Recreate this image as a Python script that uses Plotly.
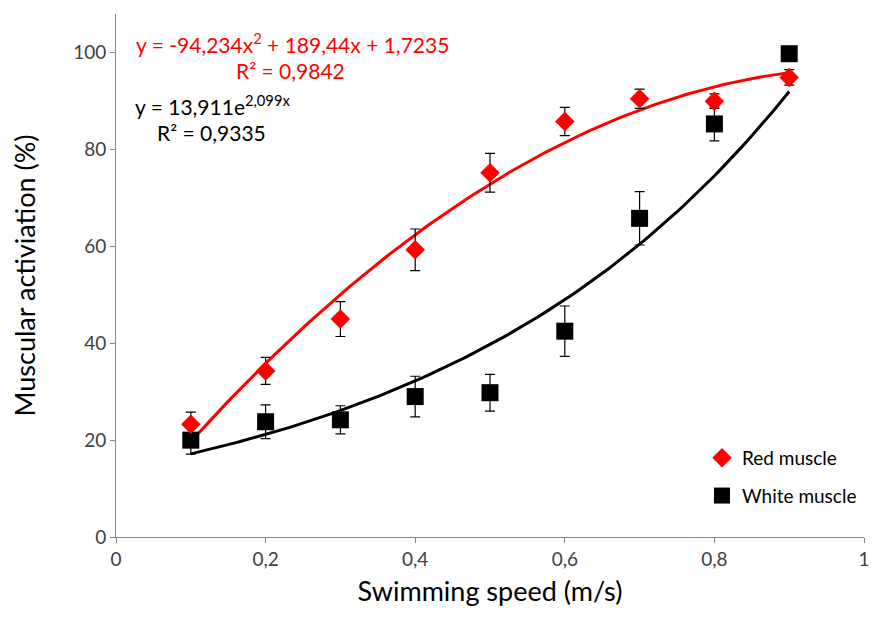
import numpy as np
import plotly.graph_objects as go

speed = [0.1, 0.2, 0.3, 0.4, 0.5, 0.6, 0.7, 0.8, 0.9]
red_vals = [23.3, 34.3, 45.0, 59.3, 75.2, 85.8, 90.5, 90.0, 94.9]
red_err = [2.5, 2.8, 3.6, 4.3, 4.0, 2.9, 2.0, 1.5, 1.6]
white_vals = [20.0, 23.8, 24.2, 29.0, 29.8, 42.5, 65.8, 85.3, 99.8]
white_err = [2.9, 3.5, 2.9, 4.2, 3.8, 5.2, 5.5, 3.5, 0.0]

# trendline coefficients as displayed on chart
poly_a, poly_b, poly_c = -94.234, 189.44, 1.7235
exp_a, exp_b = 13.911, 2.099

FONT = "Lato, 'Open Sans', sans-serif"

xs = np.linspace(0.1, 0.9, 120)
red_fit = poly_a * xs**2 + poly_b * xs + poly_c
white_fit = exp_a * np.exp(exp_b * xs)

fig = go.Figure()
fig.add_trace(go.Scatter(x=xs, y=red_fit, mode="lines",
                         line=dict(color="#ff0000", width=3), showlegend=False, hoverinfo="skip"))
fig.add_trace(go.Scatter(x=xs, y=white_fit, mode="lines",
                         line=dict(color="#000000", width=3), showlegend=False, hoverinfo="skip"))
fig.add_trace(go.Scatter(x=speed, y=white_vals, mode="markers", name="White muscle",
                         legendgroup="w", legendrank=2,
                         marker=dict(symbol="square", size=17, color="#000000"),
                         error_y=dict(type="data", array=white_err, color="#000000",
                                      thickness=1.2, width=5)))
fig.add_trace(go.Scatter(x=speed, y=red_vals, mode="markers", name="Red muscle",
                         legendgroup="r", legendrank=1,
                         marker=dict(symbol="diamond", size=15, color="#ff0000"),
                         error_y=dict(type="data", array=red_err, color="#000000",
                                      thickness=1.2, width=5)))

# page body has an 8px default margin; keep the figure inside the window
OFF = 8
W, H = 877 - 2 * OFF, 617 - 2 * OFF
L, R, T, B = 108, 5, 6, 72
pw, ph = W - L - R, H - T - B
ymax = 108

axis_common = dict(showline=True, linecolor="#868686", linewidth=1, ticks="outside",
                   tickcolor="#868686", ticklen=5, showgrid=False, zeroline=False,
                   automargin=False, ticklabeloverflow="allow",
                   tickfont=dict(family=FONT, size=19, color="#404040"))

fig.update_xaxes(range=[0, 1], tickvals=[0, 0.2, 0.4, 0.6, 0.8, 1],
                 title=dict(text="Swimming speed (m/s)", font=dict(family=FONT, size=27, color="#000000"),
                            standoff=13),
                 **axis_common)
fig.update_yaxes(range=[0, ymax], tickvals=[0, 20, 40, 60, 80, 100],
                 title=dict(text="Muscular activiation (%)", font=dict(family=FONT, size=27, color="#000000"),
                            standoff=32),
                 **axis_common)

ann = [
    dict(px=292, py=43, text="y = -94,234x<sup>2</sup> + 189,44x + 1,7235", color="#ff0000"),
    dict(px=290, py=70, text="R² = 0,9842", color="#ff0000"),
    dict(px=212, py=105, text="y = 13,911e<sup>2,099x</sup>", color="#000000"),
    dict(px=211, py=132, text="R² = 0,9335", color="#000000"),
]
for a in ann:
    fx, fy = a["px"] - OFF, a["py"] - OFF
    fig.add_annotation(x=(fx - L) / pw, y=(H - B - fy) / ph, xref="paper", yref="paper",
                       xanchor="center", yanchor="middle", showarrow=False, text=a["text"],
                       font=dict(family=FONT, size=21, color=a["color"]))

legend_left_px = 694
legend_top_px = 431
fig.update_layout(
    width=W, height=H, margin=dict(l=L, r=R, t=T, b=B),
    paper_bgcolor="white", plot_bgcolor="white",
    separators=", ",
    legend=dict(x=(legend_left_px - L) / pw, y=1 - (legend_top_px - T) / ph,
                xanchor="left", yanchor="top", traceorder="grouped",
                tracegroupgap=10, bgcolor="rgba(0,0,0,0)",
                font=dict(family=FONT, size=19, color="#000000"), itemwidth=30),
)

fig.write_html("out.html")
